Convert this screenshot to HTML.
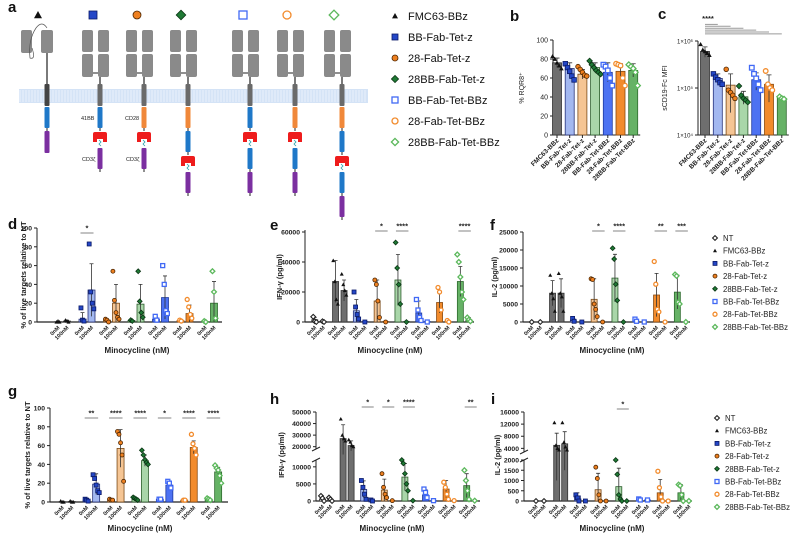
<!DOCTYPE html>
<html><head><meta charset="utf-8"><style>
body{margin:0;background:#fff}
svg{display:block;font-family:"Liberation Sans",Arial,sans-serif}
</style></head><body>
<svg id="fig" width="793" height="537" viewBox="0 0 793 537" xmlns="http://www.w3.org/2000/svg"></svg>
<script>
// ---------- DATA ----------
const constructNames = ['FMC63-BBz','BB-Fab-Tet-z','28-Fab-Tet-z','28BB-Fab-Tet-z','BB-Fab-Tet-BBz','28-Fab-Tet-BBz','28BB-Fab-Tet-BBz'];
const legendNames = ['NT','FMC63-BBz','BB-Fab-Tet-z','28-Fab-Tet-z','28BB-Fab-Tet-z','BB-Fab-Tet-BBz','28-Fab-Tet-BBz','28BB-Fab-Tet-BBz'];
// panel b
const bMeans = [76,70,64,71,66,67,68];
const bErr = [5,6,5,5,10,8,7];
const bPts = [[83,80,76,73,70],[75,71,67,62,58],[72,69,66,63,62],[78,74,71,68,66,64],[74,72,68,60,52],[75,74,73,60,52],[74,72,70,66,52]];
const bTicks = [0,20,40,60,80,100];
// panel c
const cMeans = [600000,160000,115000,65000,150000,120000,60000];
const cErr = [150000,40000,85000,20000,60000,70000,5000];
const cPts = [[850000,650000,600000,550000,500000],[200000,170000,150000,130000,120000],[250000,90000,80000,70000,60000],[110000,70000,60000,55000,50000],[270000,200000,160000,120000,90000],[230000,120000,100000,90000],[65000,60000,58000]];
const cTicks = [10000,100000,1000000];
const cTickLabels = ['1×10⁴','1×10⁵','1×10⁶'];
// panel d
const dMeans0 = [0.3,3,2,1.5,3,1.5,0.5];
const dMeans100 = [1,34,20,19,26,9,20];
const dErr0 = [0.5,7,1,1,2,1,1];
const dErr100 = [1,28,20,21,23,9,23];
const dPts0 = [[0,1,0],[15,2,1],[3,2,0],[2,1],[6,2],[2,1],[1,0]];
const dPts100 = [[2,1,0],[83,32,20,14],[54,23,10,5,3],[54,22,10,5],[60,40,12,9],[24,16,8,4],[54,32,4]];
const dSig = [[1,'*']];
const dTicks = [0,20,40,60,80,100];
// panel e
const eMeans0 = [1500,27000,7500,14000,28000,6000,13000,27000];
const eMeans100 = [500,21000,300,300,300,300,300,1500];
const eErr0 = [1500,14000,7500,14000,17000,8000,7000,10000];
const eErr100 = [500,7000,300,300,300,300,500,1500];
const ePts0 = [[3500,500,0],[41000,27000,15000,12000],[20000,10000,5000,2000],[28000,25000,14000,3000],[53000,36000,25000,12000],[15000,8000,3000,1000],[23000,20000,8000],[45000,40000,30000,20000,15000]];
const ePts100 = [[500,0],[32000,25000,21000,18000],[0],[0],[0],[0],[1000,0],[3000,1500,500]];
const eSig = [[3,'*'],[4,'****'],[7,'****']];
const eTicks = [0,20000,40000,60000];
// panel f
const fMeans0 = [0,8000,500,6300,12200,300,7500,8300];
const fMeans100 = [0,8000,0,0,0,0,0,0];
const fErr0 = [0,3500,400,5700,6600,300,6000,4700];
const fErr100 = [0,4000,0,0,0,0,0,0];
const fPts0 = [[0],[13000,8000,6500,3000],[1000,200],[12000,11800,5000,3500,1500],[20500,17500,10500,6000],[800,200],[16800,10500,3500,2800],[13200,12800,5500,5000]];
const fPts100 = [[0],[13500,8000,7000,3000],[0],[0],[0],[0],[0],[0]];
const fSig = [[3,'*'],[4,'****'],[6,'**'],[7,'***']];
const fTicks = [0,5000,10000,15000,20000,25000];
// panel g
const gMeans0 = [0.3,2,2,3,3,2,3];
const gMeans100 = [0.5,19,57,44,18,58,32];
const gErr0 = [0.5,1,1,1,1,1,1];
const gErr100 = [0.5,11,20,6,4,7,5];
const gPts0 = [[1,0,0],[3,2,1],[3,2,2],[5,4,3,2],[3,3],[2,2],[4,3,2]];
const gPts100 = [[1,0,0],[29,25,18,12,10],[75,72,63,50,22],[55,50,45,42,40],[22,20,15],[72,62,57,50],[39,36,34,28,20]];
const gSig = [[1,'**'],[2,'****'],[3,'****'],[4,'*'],[5,'****'],[6,'****']];
const gTicks = [0,20,40,60,80,100];
// panel h
const hMeans0 = [500,27000,3400,3200,7000,1800,3500,4500];
const hMeans100 = [300,21000,200,100,100,100,100,100];
const hErr0 = [500,12000,2500,3200,4000,1500,2500,3500];
const hErr100 = [300,4000,200,100,100,100,100,100];
const hPts0 = [[1500,800,0],[44000,30000,27000,25000],[6000,4000,2000,500],[8000,4000,2000,1000],[12000,11000,8000,5000,3000],[3500,2500,1000],[5500,4000,2000,500],[9000,6000,3000,500]];
const hPts100 = [[1000,500,0],[26000,24000,21000,20000],[300,0],[100],[100],[100],[100],[100]];
const hSig = [[2,'*'],[3,'*'],[4,'****'],[7,'**']];
const hTicksLow = [0,5000,10000];
const hTicksHigh = [20000,30000,40000,50000];
// panel i
const iMeans0 = [0,5000,250,550,700,100,400,400];
const iMeans100 = [0,5500,0,0,0,50,0,0];
const iErr0 = [0,4000,150,800,900,50,650,400];
const iErr100 = [0,4000,0,0,0,50,0,0];
const iPts0 = [[0],[12500,5000,4000,3500],[300,150,0],[1650,1100,300,0],[2000,1300,300,100,0],[100,50],[1450,650,200,0],[800,750,300,0]];
const iPts100 = [[0],[12500,6000,4500,3500],[0],[0],[0],[50],[0],[0]];
const iSig = [[4,'*']];
const iTicksLow = [0,500,1000,1500,2000];
const iTicksHigh = [4000,8000,12000,16000];

// ---------- STYLE ----------
const STY = {
 'NT':{bar:'#ffffff',edge:'#333',mk:'diaNT'},
 'FMC63-BBz':{bar:'#6e6e6e',edge:'#333',mk:'tri'},
 'BB-Fab-Tet-z':{bar:'#a3b8f0',edge:'#27337a',mk:'sqf'},
 '28-Fab-Tet-z':{bar:'#f5c594',edge:'#7a4a18',mk:'cirf'},
 '28BB-Fab-Tet-z':{bar:'#a9d6a9',edge:'#2d5e2d',mk:'diaf'},
 'BB-Fab-Tet-BBz':{bar:'#4d72f2',edge:'#1e3aa0',mk:'sqo'},
 '28-Fab-Tet-BBz':{bar:'#f28b2c',edge:'#8a4a10',mk:'ciro'},
 '28BB-Fab-Tet-BBz':{bar:'#66b266',edge:'#2d6a2d',mk:'diao'}
};
const NS='http://www.w3.org/2000/svg';
const fig=document.getElementById('fig');
function el(tag,attrs,parent){const e=document.createElementNS(NS,tag);for(const k in attrs)e.setAttribute(k,attrs[k]);(parent||fig).appendChild(e);return e;}
function txt(s,x,y,size,attrs,parent){const t=el('text',Object.assign({x:x,y:y,'font-size':size,fill:'#222'},attrs||{}),parent);t.textContent=s;return t;}
function marker(g,type,x,y,s){
 let e;
 if(type==='tri'){e=el('polygon',{points:`${x},${y-s} ${x-s},${y+s*0.8} ${x+s},${y+s*0.8}`,fill:'#111'},g);}
 else if(type==='sqf'){e=el('rect',{x:x-s,y:y-s,width:2*s,height:2*s,fill:'#2447c7',stroke:'#0b1a66','stroke-width':0.8},g);}
 else if(type==='cirf'){e=el('circle',{cx:x,cy:y,r:s,fill:'#ee8020',stroke:'#4a2400','stroke-width':0.8},g);}
 else if(type==='diaf'){e=el('polygon',{points:`${x},${y-s*1.2} ${x+s*1.2},${y} ${x},${y+s*1.2} ${x-s*1.2},${y}`,fill:'#1f7a35',stroke:'#0a3313','stroke-width':0.8},g);}
 else if(type==='sqo'){e=el('rect',{x:x-s,y:y-s,width:2*s,height:2*s,fill:'#fff',stroke:'#4169f5','stroke-width':1.3},g);}
 else if(type==='ciro'){e=el('circle',{cx:x,cy:y,r:s,fill:'#fff',stroke:'#f28b2c','stroke-width':1.3},g);}
 else if(type==='diao'){e=el('polygon',{points:`${x},${y-s*1.2} ${x+s*1.2},${y} ${x},${y+s*1.2} ${x-s*1.2},${y}`,fill:'#fff',stroke:'#5cb85c','stroke-width':1.3},g);}
 else {e=el('polygon',{points:`${x},${y-s*1.2} ${x+s*1.2},${y} ${x},${y+s*1.2} ${x-s*1.2},${y}`,fill:'#fff',stroke:'#222','stroke-width':1.1},g);}
 
 
 return e;
}
function spread(n,i){return n<=1?0:(i-(n-1)/2)*2.2;}
function linScale(d0,d1,r0,r1){return v=>r0+(v-d0)/(d1-d0)*(r1-r0);}
function logScale(d0,d1,r0,r1){return v=>r0+(Math.log10(v)-Math.log10(d0))/(Math.log10(d1)-Math.log10(d0))*(r1-r0);}
function brokenScale(lowMax,lowY0,lowY1,hiMin,hiMax,hiY0,hiY1){
 return v=>{ if(v<=lowMax) return lowY0+v/lowMax*(lowY1-lowY0);
   if(v>=hiMin) return hiY0+(v-hiMin)/(hiMax-hiMin)*(hiY1-hiY0);
   return lowY1-(v-lowMax)/(hiMin-lowMax)*(lowY1-hiY0); };
}
function fmt(v){return String(v);}

function drawBar(g,x,w,y0,yv,sty,name){
 const r=el('rect',{x:x-w/2,y:Math.min(y0,yv),width:w,height:Math.abs(y0-yv),fill:sty.bar,stroke:sty.edge,'stroke-width':0.8},g);
 
 
}
function drawErr(g,x,yLo,yHi,cap){
 const e=el('path',{d:`M${x},${yLo}V${yHi}M${x-cap},${yHi}H${x+cap}`,stroke:'#333','stroke-width':0.8,fill:'none'},g);
 
 
}

function simplePanel(id,x0,xs,ys,ticks,tickLabels,means,errs,pts,yTitle,ytx,yty,isLog){
 const g=el('g',{});
 
 
 const yb=ys(ticks[0]), yt=ys(ticks[ticks.length-1]);
 el('line',{x1:x0,y1:yb,x2:x0,y2:yt,stroke:'#222','stroke-width':1},g);
 el('line',{x1:x0,y1:yb,x2:xs(means.length-1)+7,y2:yb,stroke:'#222','stroke-width':1},g);
 ticks.forEach((t,i)=>{const y=ys(t);el('line',{x1:x0-3,y1:y,x2:x0,y2:y,stroke:'#222'},g);
   txt(tickLabels[i],x0-5,y+2.5,isLog?6:7,{'text-anchor':'end'},g);});
 means.forEach((m,i)=>{const x=xs(i);const n=constructNames[i];const s=STY[n];
   drawBar(g,x,9,yb,ys(m),s,'bar-'+n.toLowerCase());
   drawErr(g,x,ys(isLog?Math.max(m-errs[i],ticks[0]):m-errs[i]),ys(m+errs[i]),2.5);
   pts[i].forEach((p,j)=>marker(g,s.mk,x+spread(pts[i].length,j),ys(p),2.3));
   el('line',{x1:x,y1:yb,x2:x,y2:yb+3,stroke:'#222'},g);
   txt(n,x+2,yb+6,6.5,{'text-anchor':'end','font-weight':'bold',transform:`rotate(-45 ${x+2} ${yb+6})`},g);
 });
 const t=txt(yTitle,ytx,yty,7,{'text-anchor':'middle',transform:`rotate(-90 ${ytx} ${yty})`},g);
 
 return g;
}

function groupedPanel(cfg){
 const g=el('g',{});
 
 
 const ys=cfg.ys, yb=ys(0);
 const names=cfg.names;
 const gx=i=>cfg.gx0+i*cfg.gstep;
 if(cfg.broken){
   el('line',{x1:cfg.x0,y1:yb,x2:cfg.x0,y2:cfg.breakLow,stroke:'#222'},g);
   el('line',{x1:cfg.x0,y1:cfg.breakHigh,x2:cfg.x0,y2:cfg.yTop,stroke:'#222'},g);
   el('path',{d:`M${cfg.x0-4},${cfg.breakLow+2}L${cfg.x0+4},${cfg.breakLow-2}M${cfg.x0-4},${cfg.breakHigh+2}L${cfg.x0+4},${cfg.breakHigh-2}`,stroke:'#222',fill:'none'},g);
 } else {
   el('line',{x1:cfg.x0,y1:yb,x2:cfg.x0,y2:cfg.yTop,stroke:'#222'},g);
 }
 el('line',{x1:cfg.x0,y1:yb,x2:cfg.xEnd,y2:yb,stroke:'#222','stroke-width':1.2},g);
 cfg.ticks.forEach(t=>{const y=ys(t);el('line',{x1:cfg.x0-3,y1:y,x2:cfg.x0,y2:y,stroke:'#222'},g);
   txt(fmt(t),cfg.x0-5,y+2.5,6.8,{'text-anchor':'end','font-weight':'bold'},g);});
 names.forEach((n,i)=>{
   const s=STY[n];
   [[cfg.m0,cfg.e0,cfg.p0,'0nM',-cfg.off/2],[cfg.m1,cfg.e1,cfg.p1,'100nM',cfg.off/2]].forEach(([M,E,P,lab,dx])=>{
     const x=gx(i)+dx;
     if(M[i]>0){drawBar(g,x,cfg.bw,yb,ys(M[i]),s,'bar-'+n.toLowerCase()+'-'+lab.toLowerCase());}
     if(E[i]>0) drawErr(g,x,ys(Math.max(M[i]-E[i],0)),ys(M[i]+E[i]),2);
     P[i].forEach((p,j)=>marker(g,s.mk,x+spread(P[i].length,j)*0.7,ys(p),2));
     txt(lab,x+2,yb+6,5.5,{'text-anchor':'end','font-weight':'bold',transform:`rotate(-45 ${x+2} ${yb+6})`},g);
   });
 });
 cfg.sig.forEach(([i,st])=>{
   const a=gx(i)-cfg.off/2-2,b=gx(i)+cfg.off/2+2;
   const l=el('line',{x1:a,y1:cfg.sigY,x2:b,y2:cfg.sigY,stroke:'#999','stroke-width':1.2},g);
   
   
   txt(st,(a+b)/2,cfg.sigY-2.5,7.5,{'text-anchor':'middle','font-weight':'bold'},g);
 });
 const t=txt(cfg.yTitle,cfg.ytx,cfg.yty,7.5,{'text-anchor':'middle','font-weight':'bold',transform:`rotate(-90 ${cfg.ytx} ${cfg.yty})`},g);
 
 const xt=txt('Minocycline (nM)',cfg.xtx,cfg.xty,8,{'text-anchor':'middle','font-weight':'bold'},g);
 
}

(function(){
 const g=el('g',{});
 
 
 el('rect',{x:19,y:89,width:349,height:14,fill:'#d4e3f6'},g);
 for(let x=20;x<368;x+=3){el('line',{x1:x,y1:90,x2:x,y2:102,stroke:'#eaf2fc','stroke-width':1},g);}
 const BLUE='#1f78c8',ORANGE='#f0883a',PURPLE='#7b2fa0',GREY='#8a8a8a';
 function seg(x,y,h,c){el('rect',{x:x-2.5,y:y,width:5,height:h,rx:1,fill:c},g);}
 function tet(x,y){el('path',{d:`M${x-7},${y+2}Q${x-7},${y} ${x-5},${y}H${x+5}Q${x+7},${y} ${x+7},${y+2}V${y+10}H${x+3}V${y+7}H${x-3}V${y+10}H${x-7}Z`,fill:'#ee1c1c'},g);
   el('path',{d:`M${x-1},${y+8}l2,2l-2,2l2,2`,stroke:'#2aa0a8','stroke-width':0.8,fill:'none'},g);}
 el('rect',{x:21,y:30,width:11,height:23,rx:2,fill:GREY},g);
 el('rect',{x:41,y:30,width:12,height:23,rx:2,fill:GREY},g);
 el('path',{d:'M32,48Q36,60 30,58Q28,40 36,28Q42,20 47,28',stroke:'#555','stroke-width':0.7,fill:'none'},g);
 el('line',{x1:47,y1:53,x2:47,y2:84,stroke:'#222','stroke-width':1.2},g);
 seg(47,84,22,'#444');seg(47,107,21,BLUE);el('line',{x1:47,y1:128,x2:47,y2:131,stroke:'#222'},g);seg(47,131,22,PURPLE);
 const cons=[[100,['b','t','p']],[144,['o','t','p']],[188,['o','b','t','p']],[250,['b','t','b','p']],[295,['o','t','b','p']],[342,['o','b','t','b','p']]];
 cons.forEach(([cx,doms])=>{
   [[cx-18,30],[cx-2,30],[cx-18,54],[cx-2,54]].forEach(([x,y])=>el('rect',{x:x,y:y,width:11,height:y===30?22:23,rx:2,fill:GREY},g));
   el('line',{x1:cx-7,y1:73,x2:cx-2,y2:73,stroke:'#222'},g);
   el('line',{x1:cx,y1:77,x2:cx,y2:84,stroke:'#222','stroke-width':1.2},g);
   seg(cx,84,22,'#6a6a6a');
   let y=107;
   doms.forEach(d=>{
     if(d==='t'){tet(cx,y+1);y+=17;}
     else {const c=d==='b'?BLUE:d==='o'?ORANGE:PURPLE;seg(cx,y,21,c);el('line',{x1:cx,y1:y+21,x2:cx,y2:y+24,stroke:'#222'},g);y+=24;}
   });
 });
 txt('41BB',81,120,5.5,{},g);txt('CD28',125,120,5.5,{},g);
 txt('CD3ζ',82,161,5.5,{},g);txt('CD3ζ',126,161,5.5,{},g);
 const topX=[38,93,137,181,243,287,334];
 constructNames.forEach((n,i)=>marker(g,STY[n].mk,topX[i],15,4));
 const lg=el('g',{});
 
 
 constructNames.forEach((n,i)=>{const y=16+i*21;marker(lg,STY[n].mk,395,y,3);
   const t=txt(n,408,y+4,11,{fill:'#111'},lg);});
})();

[['a',8,12],['b',510,21],['c',658,19],['d',8,229],['e',270,230],['f',490,230],['g',8,396],['h',270,404],['i',491,404]].forEach(([l,x,y])=>{
 const t=txt(l,x,y,15,{'font-weight':'bold',fill:'#111'});
 
 
});

simplePanel('panel-b-rqr8',553,i=>557+i*12.7,linScale(0,100,135,40),bTicks,bTicks.map(String),bMeans,bErr,bPts,'% RQR8⁺',524,88,false);
simplePanel('panel-c-scd19',698,i=>705+i*12.8,logScale(10000,1000000,135,41),cTicks,cTickLabels,cMeans,cErr,cPts,'sCD19-Fc MFI',667,88,true);
(function(){const g=el('g',{});
 for(let k=1;k<7;k++){el('line',{x1:705,y1:22.5+k*1.9,x2:705+k*12.8,y2:22.5+k*1.9,stroke:'#9a9a9a','stroke-width':1},g);}
 txt('****',708,21,7.5,{'text-anchor':'middle','font-weight':'bold'},g);})();

const seven=constructNames, eight=legendNames;
groupedPanel({id:'panel-d',names:seven,x0:37,xEnd:222,gx0:62.5,gstep:24.5,off:9,bw:7,ys:linScale(0,100,322,228),yTop:228,ticks:dTicks,
 m0:dMeans0,m1:dMeans100,e0:dErr0,e1:dErr100,p0:dPts0,p1:dPts100,sig:dSig,sigY:233,yTitle:'% of live targets relative to NT',ytx:26,yty:275,xtx:137,xty:353});
groupedPanel({id:'panel-e',names:eight,x0:305,xEnd:474,gx0:319,gstep:20.8,off:8.5,bw:6,ys:linScale(0,60000,322,232),yTop:230,ticks:eTicks,
 m0:eMeans0,m1:eMeans100,e0:eErr0,e1:eErr100,p0:ePts0,p1:ePts100,sig:eSig,sigY:231,yTitle:'IFN-γ (pg/ml)',ytx:282,yty:277,xtx:390,xty:353});
groupedPanel({id:'panel-f',names:eight,x0:523,xEnd:690,gx0:536,gstep:20.8,off:8.5,bw:6,ys:linScale(0,25000,322,232),yTop:232,ticks:fTicks,
 m0:fMeans0,m1:fMeans100,e0:fErr0,e1:fErr100,p0:fPts0,p1:fPts100,sig:fSig,sigY:231,yTitle:'IL-2 (pg/ml)',ytx:497,yty:277,xtx:612,xty:353});
groupedPanel({id:'panel-g',names:seven,x0:50,xEnd:228,gx0:67,gstep:24.4,off:9.5,bw:7,ys:linScale(0,100,502,408),yTop:408,ticks:gTicks,
 m0:gMeans0,m1:gMeans100,e0:gErr0,e1:gErr100,p0:gPts0,p1:gPts100,sig:gSig,sigY:418,yTitle:'% of live targets relative to NT',ytx:30,yty:455,xtx:140,xty:531});
groupedPanel({id:'panel-h',names:eight,x0:316,xEnd:480,gx0:326.5,gstep:20.6,off:8,bw:6,ys:brokenScale(12000,501,460,18000,50000,449,412),yTop:412,broken:true,breakLow:460,breakHigh:449,
 ticks:hTicksLow.concat(hTicksHigh),m0:hMeans0,m1:hMeans100,e0:hErr0,e1:hErr100,p0:hPts0,p1:hPts100,sig:hSig,sigY:407,yTitle:'IFN-γ (pg/ml)',ytx:284,yty:455,xtx:392,xty:531});
groupedPanel({id:'panel-i',names:eight,x0:524,xEnd:692,gx0:540,gstep:20.7,off:8,bw:6,ys:brokenScale(2000,501,460,2800,16000,452,412),yTop:412,broken:true,breakLow:460,breakHigh:452,
 ticks:iTicksLow.concat(iTicksHigh),m0:iMeans0,m1:iMeans100,e0:iErr0,e1:iErr100,p0:iPts0,p1:iPts100,sig:iSig,sigY:409,yTitle:'IL-2 (pg/ml)',ytx:500,yty:455,xtx:612,xty:531});

[[715,238,'legend-f'],[717,418,'legend-i']].forEach(([x,y0,nm])=>{
 const g=el('g',{});
 
 
 legendNames.forEach((n,i)=>{const y=y0+i*12.7;marker(g,STY[n].mk,x,y,2);
   const t=txt(n,x+8,y+3,7.8,{fill:'#222'},g);});
});
</script>
</body></html>
